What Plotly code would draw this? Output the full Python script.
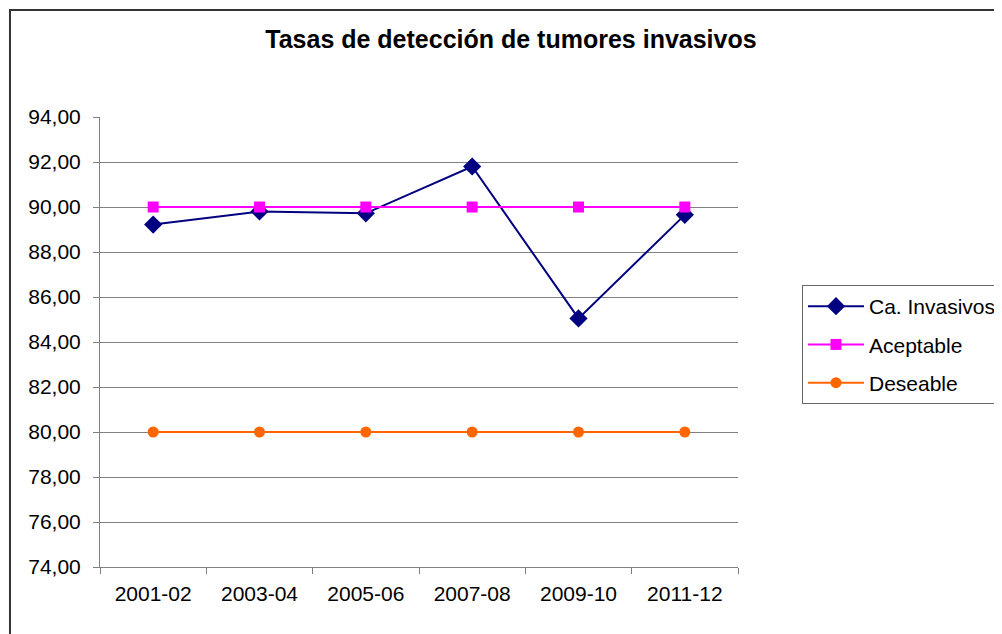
import plotly.graph_objects as go

periods = ["2001-02", "2003-04", "2005-06", "2007-08", "2009-10", "2011-12"]
invasivos = [89.22, 89.80, 89.72, 91.80, 85.05, 89.65]
aceptable = [90, 90, 90, 90, 90, 90]
deseable = [80, 80, 80, 80, 80, 80]
y_ticks = [74, 76, 78, 80, 82, 84, 86, 88, 90, 92, 94]

font_family = "Liberation Sans, Arial, sans-serif"

fig = go.Figure()
fig.add_trace(go.Scatter(x=periods, y=invasivos, mode="lines+markers",
                         name="Ca. Invasivos", legendgroup="a",
                         line=dict(color="#000080", width=2),
                         marker=dict(symbol="diamond", size=14,
                                     color="#000080")))
fig.add_trace(go.Scatter(x=periods, y=aceptable, mode="lines+markers",
                         name="Aceptable", legendgroup="b",
                         line=dict(color="#FF00FF", width=2),
                         marker=dict(symbol="square", size=11,
                                     color="#FF00FF")))
fig.add_trace(go.Scatter(x=periods, y=deseable, mode="lines+markers",
                         name="Deseable", legendgroup="c",
                         line=dict(color="#FF6600", width=2),
                         marker=dict(symbol="circle", size=11,
                                     color="#FF6600")))

# outer chart frame
fig.add_shape(type="rect", xref="paper", yref="paper",
              x0=-0.1411, x1=1.5, y0=-0.3, y1=1.2378,
              line=dict(color="#333333", width=2), layer="below")

# page body adds an 8px offset, so the figure is 8px smaller
fig.update_layout(
    width=994, height=626,
    margin=dict(l=92, r=264, t=109, b=67, autoexpand=False),
    paper_bgcolor="white", plot_bgcolor="white",
    font=dict(family=font_family, size=21, color="black"),
    title=dict(text="<b>Tasas de detección de tumores invasivos</b>",
               x=0.506, xanchor="center", xref="container",
               y=0.95, yanchor="middle",
               font=dict(size=25, family=font_family, color="black")),
    xaxis=dict(type="category", tickson="boundaries", ticks="outside",
               ticklen=6, tickcolor="#808080", showline=True,
               linecolor="#808080", linewidth=1, showgrid=False,
               range=[-0.5, 5.5], ticklabelstandoff=8),
    yaxis=dict(range=[74, 94], tickvals=y_ticks,
               ticktext=["{:.2f}".format(v).replace(".", ",") for v in y_ticks],
               ticks="outside", ticklen=6, tickcolor="#808080",
               showline=True, linecolor="#808080", linewidth=1,
               showgrid=True, gridcolor="#808080", gridwidth=1,
               zeroline=False, ticklabelstandoff=8),
    legend=dict(x=1.1003, xanchor="left", y=0.6267, yanchor="top",
                bordercolor="#666666", borderwidth=1, bgcolor="white",
                tracegroupgap=8, itemwidth=56, font=dict(size=21)),
    showlegend=True,
)

fig.write_html("out.html")
